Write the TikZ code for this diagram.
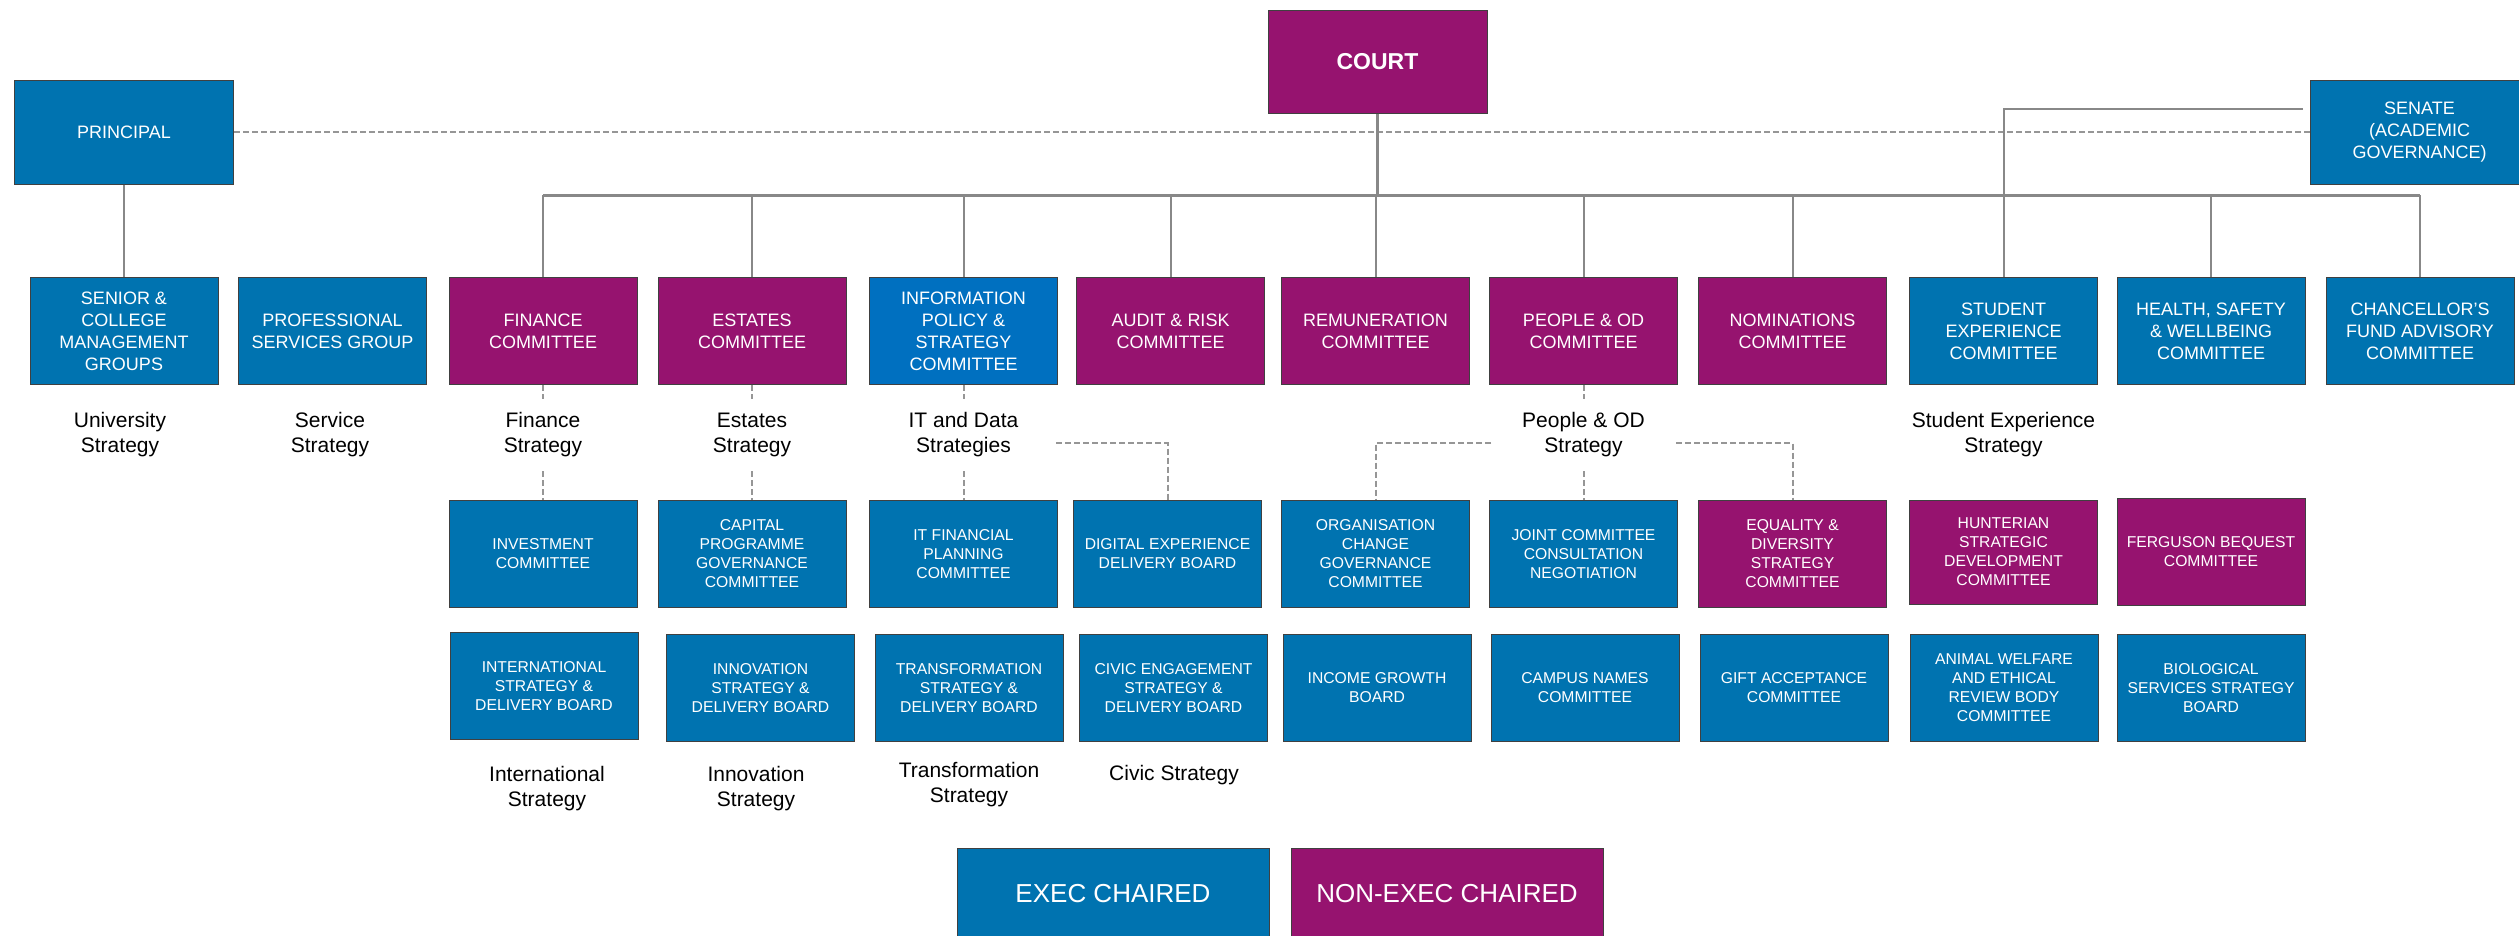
\documentclass[tikz,border=0pt]{standalone}
\usepackage{fontspec}
\setmainfont{Liberation Sans}
\definecolor{ublue}{RGB}{0,115,176}
\definecolor{ublueb}{RGB}{0,112,192}
\definecolor{upurple}{RGB}{150,19,111}
\definecolor{lgray}{RGB}{136,136,136}
\definecolor{dgray}{RGB}{150,150,150}
\tikzset{
  orgbox/.style={rectangle, draw=black!75, line width=1pt, text=white, align=center,
    inner sep=0pt, minimum width=188pt, minimum height=107pt, font=\fontsize{18}{22}\selectfont},
  bbox/.style={orgbox, fill=ublue},
  pbox/.style={orgbox, fill=upurple},
  sm/.style={font=\fontsize{15.7}{19}\selectfont},
  lbl/.style={align=center, text=black, inner sep=0pt, minimum height=72pt, font=\fontsize{21}{25}\selectfont},
  conn/.style={draw=lgray, line width=2pt},
  busline/.style={draw=lgray, line width=3pt},
  dconn/.style={draw=dgray, line width=2pt, dash pattern=on 6pt off 3pt},
}
\begin{document}
\begin{tikzpicture}[x=1pt,y=-1pt]
\useasboundingbox (0,0) rectangle (2519,935);
\clip (0,0) rectangle (2519,935);

% top level
\node[bbox, minimum width=219pt, minimum height=104pt] (principal) at (124,132) {PRINCIPAL};
\node[pbox, minimum width=219pt, minimum height=103pt, font=\bfseries\fontsize{23}{27}\selectfont] (court) at (1377.5,61.5) {COURT};
\node[bbox, minimum width=219pt, minimum height=104pt] (senate) at (2419.5,132) {SENATE\\(ACADEMIC\\GOVERNANCE)};

% row 1
\node[bbox] (senior) at (124,331) {SENIOR \&\\COLLEGE\\MANAGEMENT\\GROUPS};
\node[bbox] (prof) at (332.5,331) {PROFESSIONAL\\SERVICES GROUP};
\node[pbox] (fin) at (543,331) {FINANCE\\COMMITTEE};
\node[pbox] (est) at (752,331) {ESTATES\\COMMITTEE};
\node[orgbox, fill=ublueb] (info) at (963.5,331) {INFORMATION\\POLICY \&\\STRATEGY\\COMMITTEE};
\node[pbox] (audit) at (1170.5,331) {AUDIT \& RISK\\COMMITTEE};
\node[pbox] (rem) at (1375.5,331) {REMUNERATION\\COMMITTEE};
\node[pbox] (people) at (1583.5,331) {PEOPLE \& OD\\COMMITTEE};
\node[pbox] (nom) at (1792.5,331) {NOMINATIONS\\COMMITTEE};
\node[bbox] (stu) at (2003.5,331) {STUDENT\\EXPERIENCE\\COMMITTEE};
\node[bbox] (hsw) at (2211,331) {HEALTH, SAFETY\\\& WELLBEING\\COMMITTEE};
\node[bbox] (chanc) at (2420,331) {CHANCELLOR'S\\FUND ADVISORY\\COMMITTEE};

% strategy labels (row 1)
\node[lbl] (ustrat) at (120,435) {University\\Strategy};
\node[lbl] (sstrat) at (330,435) {Service\\Strategy};
\node[lbl] (fstrat) at (543,435) {Finance\\Strategy};
\node[lbl] (estrat) at (752,435) {Estates\\Strategy};
\node[lbl] (itstrat) at (963.5,435) {IT and Data\\Strategies};
\node[lbl] (pstrat) at (1583.5,435) {People \& OD\\Strategy};
\node[lbl] (ststrat) at (2003.5,435) {Student Experience\\Strategy};

% row 2
\node[bbox, sm] (inv) at (543,554) {INVESTMENT\\COMMITTEE};
\node[bbox, sm] (cap) at (752,554) {CAPITAL\\PROGRAMME\\GOVERNANCE\\COMMITTEE};
\node[bbox, sm] (itfin) at (963.5,554) {IT FINANCIAL\\PLANNING\\COMMITTEE};
\node[bbox, sm] (dig) at (1167.5,554) {DIGITAL EXPERIENCE\\DELIVERY BOARD};
\node[bbox, sm] (org) at (1375.5,554) {ORGANISATION\\CHANGE\\GOVERNANCE\\COMMITTEE};
\node[bbox, sm] (joint) at (1583.5,554) {JOINT COMMITTEE\\CONSULTATION\\NEGOTIATION};
\node[pbox, sm] (eq) at (1792.5,554) {EQUALITY \&\\DIVERSITY\\STRATEGY\\COMMITTEE};
\node[pbox, sm, minimum height=104pt] (hunt) at (2003.5,552) {HUNTERIAN\\STRATEGIC\\DEVELOPMENT\\COMMITTEE};
\node[pbox, sm] (ferg) at (2211,552) {FERGUSON BEQUEST\\COMMITTEE};

% row 3
\node[bbox, sm] (intl) at (544,686) {INTERNATIONAL\\STRATEGY \&\\DELIVERY BOARD};
\node[bbox, sm] (innov) at (760.5,688) {INNOVATION\\STRATEGY \&\\DELIVERY BOARD};
\node[bbox, sm] (trans) at (969,688) {TRANSFORMATION\\STRATEGY \&\\DELIVERY BOARD};
\node[bbox, sm] (civic) at (1173.5,688) {CIVIC ENGAGEMENT\\STRATEGY \&\\DELIVERY BOARD};
\node[bbox, sm] (income) at (1377,688) {INCOME GROWTH\\BOARD};
\node[bbox, sm] (campus) at (1585,688) {CAMPUS NAMES\\COMMITTEE};
\node[bbox, sm] (gift) at (1794,688) {GIFT ACCEPTANCE\\COMMITTEE};
\node[bbox, sm] (animal) at (2004,688) {ANIMAL WELFARE\\AND ETHICAL\\REVIEW BODY\\COMMITTEE};
\node[bbox, sm] (bio) at (2211,688) {BIOLOGICAL\\SERVICES STRATEGY\\BOARD};

% strategy labels (row 3)
\node[lbl] (intstrat) at (547,789) {International\\Strategy};
\node[lbl] (innstrat) at (756,789) {Innovation\\Strategy};
\node[lbl] (trstrat) at (969,785) {Transformation\\Strategy};
\node[lbl] (civstrat) at (1174,775) {Civic Strategy};

% legend
\node[bbox, minimum width=312pt, minimum height=92pt, font=\fontsize{26}{30}\selectfont] (exec) at (1113,894) {EXEC CHAIRED};
\node[pbox, minimum width=312pt, minimum height=92pt, font=\fontsize{26}{30}\selectfont] (nonexec) at (1447,894) {NON-EXEC CHAIRED};

% connectors
\coordinate (busy) at (0,195);
\draw[conn] (principal.south) -- (senior.north);
\draw[dconn] (principal.east) -- (senate.west);
\draw[busline] (court.south) -- (court.south |- busy);
\draw[busline] (fin.north |- busy) -- (chanc.north |- busy);
\foreach \n in {fin,est,info,audit,rem,people,nom,stu,hsw,chanc}
  \draw[conn] (\n.north) -- (\n.north |- busy);
\coordinate (senl) at (2303,109);
\draw[conn] (senl) -| (stu.north |- busy);

\draw[dconn] (fin.south) -- (fstrat.north);
\draw[dconn] (fstrat.south) -- (inv.north);
\draw[dconn] (est.south) -- (estrat.north);
\draw[dconn] (estrat.south) -- (cap.north);
\draw[dconn] (info.south) -- (itstrat.north);
\draw[dconn] (itstrat.south) -- (itfin.north);
\coordinate (itr) at (1056,443);
\draw[dconn] (itr) -| (dig.north);
\draw[dconn] (people.south) -- (pstrat.north);
\draw[dconn] (pstrat.south) -- (joint.north);
\coordinate (pl) at (1491,443);
\draw[dconn] (pl) -| (org.north);
\coordinate (pr) at (1676,443);
\draw[dconn] (pr) -| (eq.north);
\end{tikzpicture}
\end{document}
